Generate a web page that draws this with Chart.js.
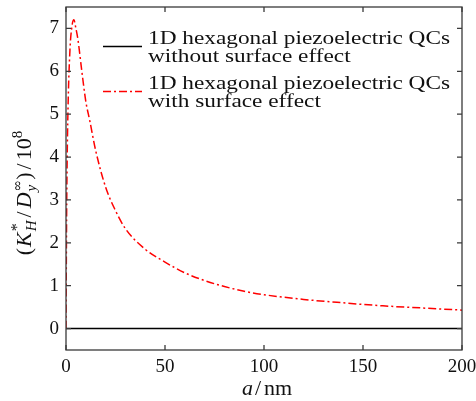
<!DOCTYPE html>
<html><head><meta charset="utf-8">
<script src="https://cdn.jsdelivr.net/npm/chart.js@4"></script>
<style>html,body{margin:0;padding:0;background:#fff}#wrap{width:476px;height:401px}</style>
</head><body><div id="wrap"><canvas id="c" width="476" height="401"></canvas></div>
<script>
const aValues = [0,0.25,0.5,1,2,3,4,5,6,8,10,12,15,20,25,30,40,50,60,70,80,90,100,120,140,160,180,200];
const withSurface = [0,2.2,3.6,5.1,6.5,7.05,7.2,7.0,6.75,6.0,5.3,4.85,4.15,3.3,2.75,2.33,1.85,1.55,1.3,1.12,0.98,0.87,0.79,0.68,0.6,0.53,0.48,0.43];
const withoutX = [0,200];
const withoutSurface = [0,0];
const xTicks = [0,50,100,150,200];
const yTicks = [0,1,2,3,4,5,6,7];
const legendLabels = [
  ["1D hexagonal piezoelectric QCs","without surface effect"],
  ["1D hexagonal piezoelectric QCs","with surface effect"]
];
const FONT = '"Liberation Serif","DejaVu Serif",serif';

const frame = {
  id:'frame',
  afterDraw(chart){
    const {ctx, chartArea:a, scales:{x,y}} = chart;
    ctx.save();
    ctx.strokeStyle='#3a3a3a'; ctx.lineWidth=1.3;
    ctx.strokeRect(a.left, a.top, a.right-a.left, a.bottom-a.top);
    ctx.beginPath();
    const tl=5;
    xTicks.forEach(v=>{const p=x.getPixelForValue(v); ctx.moveTo(p,a.bottom); ctx.lineTo(p,a.bottom-tl); ctx.moveTo(p,a.top); ctx.lineTo(p,a.top+tl);});
    yTicks.forEach(v=>{const p=y.getPixelForValue(v); ctx.moveTo(a.left,p); ctx.lineTo(a.left+tl,p); ctx.moveTo(a.right,p); ctx.lineTo(a.right-tl,p);});
    ctx.stroke();
    // legend
    const ds = chart.data.datasets;
    const lx0=103, lx1=142, tx=148;
    const rows=[{ly:46.5,b1:43.5,b2:61.5},{ly:91.5,b1:88.5,b2:106.5}];
    ctx.font='18px '+FONT;
    const target=302, w=ctx.measureText(legendLabels[0][0]).width, sx=target/w;
    rows.forEach((r,i)=>{
      const d=ds[i];
      ctx.save();
      ctx.strokeStyle=d.borderColor; ctx.lineWidth=d.borderWidth; ctx.setLineDash(d.borderDash||[]);
      ctx.beginPath(); ctx.moveTo(lx0,r.ly); ctx.lineTo(lx1,r.ly); ctx.stroke();
      ctx.restore();
      ctx.fillStyle='#111'; ctx.textBaseline='alphabetic'; ctx.textAlign='left';
      ctx.save(); ctx.translate(tx,0); ctx.scale(sx,1);
      ctx.fillText(legendLabels[i][0],0,r.b1);
      ctx.fillText(legendLabels[i][1],0,r.b2);
      ctx.restore();
    });
    // x title
    ctx.fillStyle='#111'; ctx.textBaseline='alphabetic';
    const xt=[['a','italic 22px '+FONT,0,2],['/','22px '+FONT,0,3],['nm','22px '+FONT,0,0]];
    drawRich(ctx, xt, (a.left+a.right)/2+3, 395);
    // y title
    ctx.save();
    ctx.translate(31, 193); ctx.rotate(-Math.PI/2);
    const yt=[['(','22px '+FONT,0,1],['K','italic 22px '+FONT,0,1],['*','16px '+FONT,-9,0],['H','italic 15px '+FONT,5,3],
      ['/','22px '+FONT,0,3],['D','italic 22px '+FONT,0,1],['\u221E','14px "DejaVu Serif",serif',-9,0],['y','italic 15px '+FONT,5,2],
      [')','22px '+FONT,0,3],['/','22px '+FONT,0,3],['10','22px '+FONT,0,0],['8','15px '+FONT,-9,0]];
    drawRich(ctx, yt, 0, 0);
    ctx.restore();
    ctx.restore();
  }
};
function drawRich(ctx, parts, cx, by){
  const ws=[];
  parts.forEach(p=>{ctx.font=p[1]; ws.push(ctx.measureText(p[0]).width);});
  let xs=[]; let x=0;
  for(let i=0;i<parts.length;i++){
    const p=parts[i];
    if(i>0 && parts[i-1][2]<0 && p[2]>0){
      const sx=xs[i-1]; xs.push(sx); x=Math.max(x, sx+ws[i]+p[3]); continue;
    }
    xs.push(x); x+=ws[i]+p[3];
  }
  const x0=cx-x/2;
  parts.forEach((p,i)=>{ctx.font=p[1]; ctx.textAlign='left'; ctx.fillText(p[0], x0+xs[i], by+p[2]);});
}

new Chart(document.getElementById('c'),{
  type:'line',
  data:{datasets:[
    {label:'without', data:withoutX.map((v,i)=>({x:v,y:withoutSurface[i]})), borderColor:'#000', borderWidth:1.5, pointRadius:0, fill:false},
    {label:'with', data:aValues.map((v,i)=>({x:v,y:withSurface[i]})), borderColor:'#ff0000', borderWidth:1.5, borderDash:[8,3,2,3], pointRadius:0, fill:false, cubicInterpolationMode:'monotone'}
  ]},
  options:{
    responsive:false, animation:false, devicePixelRatio:1,
    layout:{padding:{left:0,right:14,top:7,bottom:0}},
    plugins:{legend:{display:false},tooltip:{enabled:false}},
    scales:{
      x:{type:'linear',min:0,max:200,
        afterBuildTicks(s){s.ticks=xTicks.map(v=>({value:v}));},
        afterFit(s){s.height=51; s.paddingLeft=0; s.paddingRight=0;},
        grid:{display:false,drawTicks:false}, border:{display:false},
        ticks:{padding:6,color:'#111',font:{family:FONT,size:19},maxRotation:0}},
      y:{type:'linear',min:-0.5,max:7.5,
        afterBuildTicks(s){s.ticks=yTicks.map(v=>({value:v}));},
        afterFit(s){s.width=66; s.paddingTop=0; s.paddingBottom=0;},
        grid:{display:false,drawTicks:false}, border:{display:false},
        ticks:{padding:7,color:'#111',font:{family:FONT,size:19}}}
    }
  },
  plugins:[frame]
});
</script></body></html>
